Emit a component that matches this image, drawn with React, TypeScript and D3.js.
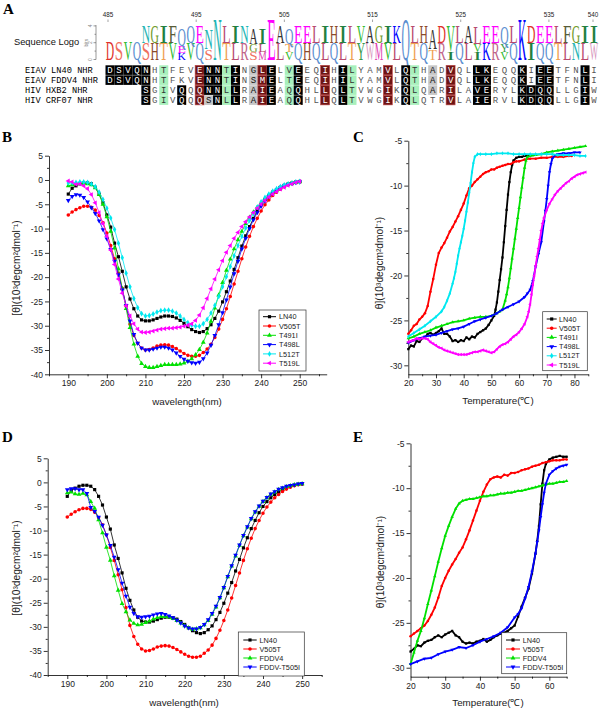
import React, { useEffect, useRef } from 'react';
import * as d3 from 'd3';

const SANS = '"Liberation Sans", Arial, sans-serif';
const SERIF = '"Liberation Serif", "Times New Roman", serif';
const MONO = '"Liberation Mono", "Courier New", monospace';

// ---------- panel A: alignment ----------
const seqNames = ['EIAV LN40 NHR', 'EIAV FDDV4 NHR', 'HIV HXB2 NHR', 'HIV CRF07 NHR'];
const seqRows = [
  'DSVQNHTFEVENNTINGLELVEEQIHILYAMVLQTHADVQLLKEQQKIEETFNLI',
  'DSVQNHTFKVENNTINSMELTEEQIHILYAMVLQTHADVQLLKEQQKIEETFNLI',
  '    SGIVQQQNNLLRAIEAQQHLLQLTVWGIKQLQARILAVERYLKDQQLLGIW',
  '    SGIVQQQSNLLRAIEAQQHLLQLTVWGIKQLQTRVLAIERVLKDQQLLGIW',
];
// k = black, r = dark red, g = green, l = grey, . = none
const seqShade = [
  ['kkkkk', '.g...', 'rkkgk', '.lrk.', 'gk..r', '.kg..', '.r.kg', '.l.r.', '.kk..', '.k.kk', '...k.'].join(''),
  ['kkkkk', '.g...', 'rkkgk', '.lrk.', 'gk..r', '.kg..', '.r.kg', '.l.r.', '.kk..', '.k.kk', '...k.'].join(''),
  ['    k', '.g.k.', 'rkkgk', '.lrk.', 'gk..r', '.kg..', '.r.kg', '.l.r.', '.kk..', '.kkkk', '...k.'].join(''),
  ['    k', '.g.k.', 'rlkgk', '.lrk.', 'gk..r', '.kg..', '.r.kg', '...r.', '.kk..', '.kkkk', '...k.'].join(''),
];
const rulerTicks = [485, 495, 505, 515, 525, 535, 540];

// logo stacks, top letter first, heights in bits
const logoStacks: [string, number][][] = [
  [['D', 2.2]], [['S', 2.2]], [['V', 2.2]], [['Q', 2.2]],
  [['N', 2], ['S', 2]], [['G', 2], ['H', 2]], [['I', 2], ['T', 2]], [['F', 2], ['V', 2]],
  [['Q', 2], ['E', 0.8], ['K', 0.8]], [['Q', 2], ['V', 2]], [['E', 2], ['Q', 2]],
  [['N', 2.4], ['S', 1.2]], [['N', 4.8]], [['L', 2], ['T', 2]], [['I', 2], ['L', 2]],
  [['N', 2], ['R', 2]], [['A', 1.8], ['G', 0.9], ['S', 0.9]], [['I', 1.8], ['L', 0.9], ['M', 0.9]],
  [['E', 4.8]], [['A', 2], ['L', 2]], [['Q', 1.8], ['T', 0.9], ['V', 0.9]], [['E', 2], ['Q', 2]],
  [['E', 2], ['H', 2]], [['L', 2], ['Q', 2]], [['I', 2], ['L', 2]], [['H', 2], ['Q', 2]],
  [['I', 2], ['L', 2]], [['L', 2], ['T', 2]], [['V', 2], ['Y', 2]], [['A', 2], ['W', 2]],
  [['G', 2], ['M', 2]], [['I', 2], ['V', 2]], [['K', 2], ['L', 2]], [['Q', 4.8]],
  [['L', 2], ['T', 2]], [['H', 2], ['Q', 2]], [['A', 2.4], ['T', 1.2]], [['D', 2], ['R', 2]],
  [['V', 3], ['I', 1]], [['L', 2], ['Q', 2]], [['A', 2], ['L', 2]], [['L', 2], ['V', 0.9], ['I', 0.9]],
  [['E', 2], ['K', 2]], [['E', 2], ['R', 2]], [['Q', 2], ['Y', 0.9], ['V', 0.9]], [['L', 2], ['Q', 2]],
  [['K', 4.8]], [['D', 2], ['I', 2]], [['E', 2], ['Q', 2]], [['E', 2], ['Q', 2]],
  [['L', 2], ['T', 2]], [['F', 2], ['L', 2]], [['G', 2], ['N', 2]], [['I', 2], ['L', 2]], [['I', 2], ['W', 2]],
];
const logoColors: Record<string, string> = {
  A: '#333333', D: '#e0302a', E: '#ff00ff', F: '#585c38', G: '#6f9a2a', H: '#8b4a2b', I: '#21803f',
  K: '#0000ff', L: '#b84a6e', M: '#e040b0', N: '#1fb5b5', Q: '#5a8ed0', R: '#c0648a', S: '#f07060',
  T: '#f0a050', V: '#33bb33', W: '#d898c0', Y: '#3a9a4a',
};

// ---------- CD spectra ----------
const wavelengths = [
  190, 191, 192, 193, 194, 195, 196, 197, 198, 199, 200, 201, 202, 203, 204, 205, 206, 207, 208, 209,
  210, 211, 212, 213, 214, 215, 216, 217, 218, 219, 220, 221, 222, 223, 224, 225, 226, 227, 228, 229,
  230, 231, 232, 233, 234, 235, 236, 237, 238, 239, 240, 241, 242, 243, 244, 245, 246, 247, 248, 249, 250,
];
const cdLN40 = [
  -2.9, -1.7, -1.2, -0.8, -0.6, -0.6, -0.8, -1.5, -2.9, -4.7, -7.2, -9.7, -13.0, -15.8, -18.8, -22.0, -24.5, -26.5, -28.0, -28.8,
  -29.0, -29.0, -28.8, -28.5, -28.2, -28.0, -28.0, -28.1, -28.4, -28.9, -29.5, -30.2, -30.8, -31.2, -31.4, -31.2, -30.6, -29.8, -28.5, -27.0,
  -25.1, -23.0, -20.8, -18.4, -16.0, -13.6, -11.5, -9.6, -7.9, -6.3, -5.0, -4.0, -3.2, -2.5, -2.0, -1.5, -1.1, -0.8, -0.6, -0.4, -0.3,
];
const cdV505T = [
  -7.2, -6.6, -6.1, -5.7, -5.4, -5.4, -5.6, -6.2, -7.3, -8.8, -10.9, -13.5, -16.2, -19.2, -22.3, -26.0, -29.7, -32.0, -33.6, -34.6,
  -35.0, -34.9, -34.6, -34.2, -34.0, -33.9, -34.0, -34.3, -34.7, -35.2, -35.7, -36.1, -36.3, -36.3, -36.1, -35.5, -34.8, -33.8, -32.4, -30.7,
  -28.7, -26.5, -24.0, -21.4, -18.8, -16.2, -13.8, -11.6, -9.6, -7.9, -6.4, -5.1, -4.1, -3.2, -2.5, -1.9, -1.4, -1.0, -0.7, -0.5, -0.4,
];
const cdT491I = [
  -1.2, -1.0, -0.8, -0.7, -0.7, -0.8, -1.0, -1.6, -3.0, -5.0, -7.6, -10.6, -14.0, -18.3, -22.4, -26.5, -30.4, -33.8, -36.3, -37.8,
  -38.4, -38.6, -38.6, -38.4, -38.2, -38.0, -38.0, -38.0, -38.0, -37.9, -37.7, -37.3, -36.8, -36.0, -34.9, -33.4, -31.5, -29.1, -26.4, -23.7,
  -21.1, -18.6, -16.3, -14.2, -12.3, -10.6, -9.0, -7.7, -6.6, -5.6, -4.7, -3.9, -3.2, -2.6, -2.1, -1.6, -1.2, -0.9, -0.7, -0.5, -0.4,
];
const cdT498L = [
  -4.2, -3.4, -3.0, -3.1, -3.6, -4.5, -5.7, -6.9, -8.4, -10.2, -12.1, -14.3, -16.7, -19.5, -22.6, -25.8, -29.0, -31.8, -33.6, -34.6,
  -35.0, -35.0, -34.8, -34.6, -34.4, -34.4, -34.6, -35.0, -35.6, -36.3, -36.9, -37.3, -37.6, -37.7, -37.5, -36.8, -35.6, -34.0, -32.0, -29.8,
  -27.3, -24.7, -22.0, -19.3, -16.7, -14.2, -12.0, -10.0, -8.2, -6.7, -5.4, -4.3, -3.4, -2.7, -2.1, -1.6, -1.2, -0.9, -0.7, -0.5, -0.4,
];
const cdL512T = [
  -0.6, -0.6, -0.5, -0.4, -0.4, -0.5, -0.8, -1.4, -2.5, -4.0, -5.8, -7.8, -10.2, -13.0, -16.0, -19.2, -22.0, -24.4, -26.3, -27.5,
  -28.0, -27.9, -27.6, -27.2, -26.9, -26.8, -26.8, -27.0, -27.4, -28.0, -28.7, -29.4, -29.9, -30.1, -30.1, -29.6, -28.7, -27.4, -25.8, -24.0,
  -22.0, -19.9, -17.8, -15.6, -13.5, -11.6, -9.9, -8.3, -6.9, -5.6, -4.5, -3.6, -2.9, -2.3, -1.8, -1.4, -1.0, -0.8, -0.6, -0.4, -0.3,
];
const cdT519L = [
  -0.2, -0.4, -0.9, -0.8, -1.2, -1.8, -3.0, -4.7, -6.7, -9.0, -11.6, -14.4, -17.4, -20.4, -23.3, -25.9, -28.0, -29.6, -30.7, -31.3,
  -31.4, -31.3, -31.1, -30.9, -30.7, -30.6, -30.5, -30.5, -30.4, -30.3, -30.1, -29.9, -29.6, -28.9, -27.8, -26.3, -24.4, -22.4, -20.4, -18.5,
  -16.6, -14.9, -13.5, -12.0, -10.8, -9.6, -8.6, -7.6, -6.7, -5.8, -5.0, -4.2, -3.5, -2.9, -2.4, -1.9, -1.5, -1.1, -0.8, -0.5, -0.3,
];
const cdFDDV4 = [
  -2.2, -2.0, -2.4, -2.5, -2.3, -2.6, -4.0, -5.4, -7.8, -10.5, -13.5, -16.2, -19.4, -22.4, -25.2, -26.9, -28.6, -29.3, -29.6, -29.5,
  -29.1, -28.8, -28.4, -28.1, -27.9, -27.9, -28.0, -28.3, -28.7, -29.2, -29.8, -30.2, -30.5, -30.4, -30.2, -29.6, -28.7, -27.4, -25.9, -24.0,
  -21.9, -19.6, -17.4, -15.3, -13.1, -11.1, -9.3, -7.6, -6.2, -5.0, -4.0, -3.2, -2.5, -2.0, -1.5, -1.2, -0.9, -0.7, -0.5, -0.4, -0.3,
];
const cdFDDVT505I = [
  -1.5, -1.3, -1.3, -1.5, -1.5, -2.3, -5.2, -6.0, -7.2, -8.9, -10.9, -13.1, -15.5, -18.1, -20.9, -23.6, -25.9, -27.2, -27.9, -28.0,
  -27.9, -27.8, -27.5, -27.3, -27.2, -27.4, -27.7, -28.1, -28.6, -29.2, -29.8, -30.2, -30.4, -30.4, -30.1, -29.5, -28.5, -27.2, -25.7, -23.9,
  -21.8, -19.5, -17.3, -15.1, -13.0, -11.0, -9.2, -7.5, -6.1, -4.9, -3.9, -3.1, -2.4, -1.9, -1.4, -1.1, -0.8, -0.6, -0.5, -0.3, -0.2,
];

// ---------- thermal denaturation [temperature, value] ----------
type Pt = [number, number];
const tmC_LN40: Pt[] = [
  [20, -28.2], [21, -27.8], [22, -27.9], [23, -27.3], [24, -27.4], [25, -27.0], [26, -26.9], [27, -26.5], [28, -26.4], [29, -26.6],
  [30, -26.4], [31, -26.2], [32, -25.9], [33, -26.5], [34, -26.5], [35, -26.8], [36, -27.3], [37, -27.2], [38, -27.4], [39, -27.2],
  [40, -27.3], [41, -26.9], [42, -27.1], [43, -26.8], [44, -26.9], [45, -26.5], [46, -26.3], [47, -26.1], [48, -25.9], [49, -25.5],
  [50, -25.0], [51, -24.5], [51.5, -23.8], [52, -23.0], [52.5, -21.8], [53, -20.5], [53.5, -19.3], [54, -18.0], [54.5, -16.3],
  [55, -14.5], [55.5, -12.7], [56, -11.0], [56.5, -9.6], [57, -8.5], [57.5, -7.7], [58, -7.2], [59, -6.9], [60, -6.8], [61, -6.8],
  [62, -6.7], [63, -6.7], [64, -6.6], [65, -6.6],
];
const tmC_V505T: Pt[] = [
  [20, -26.5], [21, -26.1], [22, -25.6], [23, -25.4], [24, -24.9], [25, -24.6], [26, -24.2], [27, -23.4], [28, -21.8], [29, -20.4],
  [30, -18.8], [31, -17.5], [32, -16.9], [33, -16.4], [34, -15.8], [35, -15.1], [36, -14.6], [37, -14.0], [38, -13.4], [39, -12.7],
  [40, -12.0], [41, -11.1], [42, -10.3], [43, -10.0], [44, -9.6], [45, -9.3], [46, -9.0], [47, -8.7], [48, -8.5], [49, -8.4],
  [50, -8.2], [51, -8.2], [52, -8.0], [53, -7.9], [54, -7.8], [55, -7.7], [56, -7.6], [57, -7.6], [58, -7.4], [59, -7.3], [60, -7.3],
  [62, -7.1], [64, -7.0], [66, -7.0], [68, -6.9], [70, -6.9], [72, -6.8], [74, -6.8], [76, -6.8], [78, -6.7], [79, -6.7],
];
const tmC_T491I: Pt[] = [
  [20, -27.0], [22, -26.8], [24, -26.5], [26, -26.3], [28, -26.1], [30, -25.8], [32, -25.6], [34, -25.4], [36, -25.2], [38, -25.1],
  [40, -25.0], [42, -24.8], [44, -24.7], [46, -24.6], [48, -24.6], [50, -24.5], [52, -24.2], [53, -24.0], [54, -23.8], [55, -22.8],
  [55.5, -22.1], [56, -21.3], [56.5, -20.3], [57, -19.2], [57.5, -18.1], [58, -17.0], [58.5, -15.9], [59, -14.8], [59.5, -13.6],
  [60, -12.5], [60.5, -11.3], [61, -10.2], [61.5, -9.1], [62, -8.0], [62.5, -7.2], [63, -6.8], [64, -6.7], [66, -6.6], [68, -6.5],
  [70, -6.3], [72, -6.2], [74, -6.1], [76, -6.0], [78, -5.9], [80, -5.8], [82, -5.7], [84, -5.6],
];
const tmC_T498L: Pt[] = [
  [20, -27.5], [22, -27.2], [24, -27.0], [26, -26.8], [28, -26.7], [30, -26.6], [32, -26.4], [34, -26.2], [36, -26.0], [38, -25.9],
  [40, -25.7], [42, -25.4], [44, -25.1], [46, -24.9], [48, -24.7], [50, -24.5], [52, -24.2], [54, -23.8], [56, -23.5], [58, -23.2],
  [60, -22.9], [62, -22.4], [63, -22.0], [64, -21.6], [65, -20.6], [66, -19.0], [67, -17.6], [68, -16.3], [69, -14.0], [69.5, -12.8],
  [70, -11.5], [70.5, -10.0], [71, -8.5], [71.5, -7.6], [72, -7.0], [73, -6.6], [74, -6.5], [76, -6.4], [78, -6.4], [80, -6.3], [82, -6.3],
];
const tmC_L512T: Pt[] = [
  [20, -26.8], [22, -26.4], [24, -26.0], [26, -25.6], [28, -25.1], [30, -24.6], [32, -24.0], [33, -23.5], [34, -22.8], [35, -22.0],
  [36, -20.9], [36.5, -20.3], [37, -19.6], [37.5, -18.7], [38, -17.8], [38.5, -17.0], [39, -16.3], [39.5, -15.6], [40, -14.8],
  [40.5, -13.9], [41, -12.9], [41.5, -11.9], [42, -10.8], [42.5, -9.7], [43, -8.5], [43.5, -7.5], [44, -6.8], [45, -6.5], [46, -6.5],
  [48, -6.5], [50, -6.5], [52, -6.4], [54, -6.4], [56, -6.4], [58, -6.5], [60, -6.5], [62, -6.5], [64, -6.5], [66, -6.5], [68, -6.5],
  [70, -6.5], [72, -6.5], [74, -6.6], [76, -6.6], [78, -6.6], [80, -6.6], [82, -6.7], [84, -6.7],
];
const tmC_T519L: Pt[] = [
  [20, -27.4], [21, -27.3], [22, -27.2], [23, -27.0], [24, -27.1], [25, -27.0], [26, -27.0], [27, -27.1], [28, -27.4], [29, -27.6],
  [30, -27.8], [31, -28.0], [32, -28.1], [33, -28.3], [34, -28.4], [35, -28.5], [36, -28.6], [37, -28.7], [38, -28.8], [39, -28.8],
  [40, -28.8], [41, -28.8], [42, -28.7], [43, -28.6], [44, -28.5], [45, -28.5], [46, -28.4], [47, -28.3], [48, -28.4], [49, -28.5],
  [50, -28.6], [51, -28.5], [52, -28.2], [53, -27.9], [54, -27.7], [55, -27.6], [56, -27.4], [57, -27.1], [58, -26.8], [59, -26.6],
  [60, -26.3], [61, -25.9], [62, -25.4], [63, -24.6], [63.5, -24.0], [64, -23.2], [64.5, -22.1], [65, -21.0], [65.5, -20.0],
  [66, -18.9], [66.5, -17.9], [67, -17.0], [67.5, -16.0], [68, -15.0], [68.5, -14.2], [69, -13.6], [70, -12.7], [71, -12.0],
  [72, -11.5], [73, -11.0], [74, -10.6], [75, -10.3], [76, -10.0], [77, -9.7], [78, -9.5], [79, -9.2], [80, -9.0], [81, -8.8],
  [82, -8.7], [83, -8.6], [84, -8.5],
];

const tmE_LN40: Pt[] = [
  [20, -28.2], [21, -27.9], [22, -27.5], [23, -27.6], [24, -27.2], [25, -27.0], [26, -26.9], [27, -26.6], [28, -26.4], [29, -26.6],
  [30, -26.3], [31, -26.1], [32, -25.9], [33, -26.4], [34, -26.6], [35, -27.1], [36, -27.3], [37, -27.2], [38, -27.3], [39, -27.1],
  [40, -27.0], [41, -26.8], [42, -27.1], [43, -26.9], [44, -26.6], [45, -26.4], [46, -26.2], [47, -26.1], [48, -25.9], [49, -25.6],
  [50, -25.3], [51, -24.3], [52, -23.2], [53, -22.2], [54, -21.2], [55, -19.5], [56, -17.3], [56.5, -15.9], [57, -14.2], [57.5, -11.8],
  [58, -9.5], [58.5, -8.0], [59, -7.3], [60, -6.8], [61, -6.6], [62, -6.5], [63, -6.4], [64, -6.5], [65, -6.5],
];
const tmE_V505T: Pt[] = [
  [20, -26.5], [21, -26.2], [22, -25.9], [23, -25.6], [24, -25.3], [25, -24.8], [26, -24.1], [27, -23.3], [28, -22.2], [29, -20.9],
  [30, -20.0], [31, -19.2], [32, -18.5], [33, -17.9], [34, -17.2], [35, -16.6], [36, -15.7], [37, -14.7], [38, -13.6], [39, -12.5],
  [40, -11.4], [41, -10.4], [42, -9.6], [43, -9.0], [44, -8.8], [45, -8.7], [46, -8.8], [47, -8.5], [48, -8.6], [49, -8.3],
  [50, -8.3], [51, -8.2], [52, -8.0], [53, -7.9], [54, -7.8], [55, -7.6], [56, -7.5], [57, -7.4], [58, -7.2], [59, -7.1],
  [60, -7.0], [61, -6.9], [62, -6.9], [63, -6.9], [64, -6.8], [65, -6.8],
];
const tmE_FDDV4: Pt[] = [
  [20, -29.6], [21, -28.3], [22, -27.0], [23, -25.9], [24, -24.5], [25, -22.9], [26, -21.4], [27, -19.8], [28, -18.2], [29, -16.7],
  [30, -15.3], [31, -14.2], [32, -13.2], [33, -12.3], [34, -11.7], [35, -11.4], [36, -11.3], [37, -11.2], [38, -11.2], [39, -11.1],
  [40, -11.0], [41, -10.9], [42, -10.9], [43, -10.8], [44, -10.8], [45, -10.7], [46, -10.6], [47, -10.6], [48, -10.5], [49, -10.5],
  [50, -10.4], [51, -10.3], [52, -10.3], [53, -10.2], [54, -10.1], [55, -10.0], [56, -9.9], [57, -9.8], [58, -9.7], [59, -9.6],
  [60, -9.5], [61, -9.5], [62, -9.4], [63, -9.3], [64, -9.3], [65, -9.2],
];
const tmE_FDDVT505I: Pt[] = [
  [20, -29.6], [22, -29.3], [24, -29.0], [26, -28.9], [28, -28.5], [30, -28.2], [32, -28.0], [34, -27.7], [36, -27.8], [38, -27.5],
  [40, -27.1], [42, -26.8], [44, -26.5], [46, -26.1], [48, -25.5], [50, -24.4], [51, -24.0], [52, -23.4], [53, -22.3], [54, -21.0],
  [55, -19.3], [56, -17.3], [56.5, -16.0], [57, -14.7], [57.5, -13.2], [58, -11.8], [58.5, -10.5], [59, -9.5], [60, -8.5],
  [61, -8.1], [62, -7.8], [63, -7.6], [64, -7.5], [65, -7.4],
];

type Series = { name: string; color: string; symbol: string; pts: Pt[] };
const zipCD = (vals: number[]): Pt[] => wavelengths.map((w, i) => [w, vals[i]] as Pt);

const seriesB: Series[] = [
  { name: 'LN40', color: '#000000', symbol: 'square', pts: zipCD(cdLN40) },
  { name: 'V505T', color: '#ff0000', symbol: 'circle', pts: zipCD(cdV505T) },
  { name: 'T491I', color: '#00e000', symbol: 'up', pts: zipCD(cdT491I) },
  { name: 'T498L', color: '#0000ff', symbol: 'down', pts: zipCD(cdT498L) },
  { name: 'L512T', color: '#00e8f0', symbol: 'diamond', pts: zipCD(cdL512T) },
  { name: 'T519L', color: '#ff00ff', symbol: 'left', pts: zipCD(cdT519L) },
];
const seriesC: Series[] = [
  { name: 'LN40', color: '#000000', symbol: 'square', pts: tmC_LN40 },
  { name: 'V505T', color: '#ff0000', symbol: 'circle', pts: tmC_V505T },
  { name: 'T491I', color: '#00e000', symbol: 'up', pts: tmC_T491I },
  { name: 'T498L', color: '#0000ff', symbol: 'down', pts: tmC_T498L },
  { name: 'L512T', color: '#00e8f0', symbol: 'diamond', pts: tmC_L512T },
  { name: 'T519L', color: '#ff00ff', symbol: 'left', pts: tmC_T519L },
];
const seriesD: Series[] = [
  { name: 'LN40', color: '#000000', symbol: 'square', pts: zipCD(cdLN40) },
  { name: 'V505T', color: '#ff0000', symbol: 'circle', pts: zipCD(cdV505T) },
  { name: 'FDDV4', color: '#00e000', symbol: 'up', pts: zipCD(cdFDDV4) },
  { name: 'FDDV-T505I', color: '#0000ff', symbol: 'down', pts: zipCD(cdFDDVT505I) },
];
const seriesE: Series[] = [
  { name: 'LN40', color: '#000000', symbol: 'square', pts: tmE_LN40 },
  { name: 'V505T', color: '#ff0000', symbol: 'circle', pts: tmE_V505T },
  { name: 'FDDV4', color: '#00e000', symbol: 'up', pts: tmE_FDDV4 },
  { name: 'FDDV-T505I', color: '#0000ff', symbol: 'down', pts: tmE_FDDVT505I },
];

const Y_LABEL = '[θ](10³degcm²dmol⁻¹)';
const Y_LABEL_T = 'θ](10³degcm²dmol⁻¹)';

function symbolPath(kind: string, size: number) {
  const t = kind === 'square' ? d3.symbolSquare : kind === 'circle' ? d3.symbolCircle
    : kind === 'diamond' ? d3.symbolDiamond : d3.symbolTriangle;
  return d3.symbol().type(t).size(size)() as string;
}
const symbolRot = (kind: string) => (kind === 'down' ? 180 : kind === 'left' ? -90 : 0);

type PanelCfg = {
  xDomain: [number, number]; xRange: [number, number];
  yDomain: [number, number]; yRange: [number, number];
  xTicks: number[]; xMinor: number; yTicks: number[]; yMinor: number;
  xLabel: string; xLabelPos: [number, number];
  yLabel: string; yLabelPos: [number, number];
  series: Series[]; markerSize: number; lineWidth: number;
  legend: { box: [number, number, number, number]; y0: number; dy: number; lx: [number, number]; tx: number };
};

function drawPanel(root: d3.Selection<SVGGElement, unknown, null, undefined>, cfg: PanelCfg) {
  const x = d3.scaleLinear().domain(cfg.xDomain).range(cfg.xRange);
  const y = d3.scaleLinear().domain(cfg.yDomain).range(cfg.yRange);
  const g = root.append('g');

  const minors = (dom: [number, number], step: number, majors: number[]) =>
    d3.range(Math.ceil(dom[0] / step) * step, dom[1] + 1e-9, step).filter(v => !majors.some(m => Math.abs(m - v) < 1e-9));

  const gx = g.append('g').attr('transform', `translate(0,${cfg.yRange[0]})`)
    .call(d3.axisBottom(x).tickValues(cfg.xTicks).tickSize(4).tickSizeOuter(0).tickPadding(2).tickFormat(d => String(d)));
  g.append('g').attr('transform', `translate(0,${cfg.yRange[0]})`)
    .call(d3.axisBottom(x).tickValues(minors(cfg.xDomain, cfg.xMinor, cfg.xTicks)).tickSize(2).tickFormat(() => ''))
    .call(s => s.select('.domain').remove());
  const gy = g.append('g').attr('transform', `translate(${cfg.xRange[0]},0)`)
    .call(d3.axisLeft(y).tickValues(cfg.yTicks).tickSize(4).tickSizeOuter(0).tickPadding(2).tickFormat(d => String(d)));
  g.append('g').attr('transform', `translate(${cfg.xRange[0]},0)`)
    .call(d3.axisLeft(y).tickValues(minors(cfg.yDomain, cfg.yMinor, cfg.yTicks)).tickSize(2).tickFormat(() => ''))
    .call(s => s.select('.domain').remove());
  g.selectAll('.domain, .tick line').attr('stroke', '#000').attr('stroke-width', 0.8);
  [gx, gy].forEach(a => a.attr('font-family', SANS).attr('font-size', 8.5).selectAll('text').attr('fill', '#222'));

  g.append('text').attr('x', cfg.xLabelPos[0]).attr('y', cfg.xLabelPos[1]).attr('text-anchor', 'middle')
    .attr('font-family', SANS).attr('font-size', 9.8).attr('fill', '#222').text(cfg.xLabel);
  g.append('text').attr('transform', `translate(${cfg.yLabelPos[0]},${cfg.yLabelPos[1]}) rotate(-90)`)
    .attr('text-anchor', 'middle').attr('font-family', SANS).attr('font-size', 10.2).attr('fill', '#222').text(cfg.yLabel);

  const line = d3.line<Pt>().x(d => x(d[0])).y(d => y(d[1]));
  cfg.series.forEach(s => {
    g.append('path').attr('d', line(s.pts) as string).attr('fill', 'none')
      .attr('stroke', s.color).attr('stroke-width', cfg.lineWidth);
    const p = symbolPath(s.symbol, cfg.markerSize);
    g.append('g').selectAll('path').data(s.pts).enter().append('path')
      .attr('d', p).attr('fill', s.color)
      .attr('transform', d => `translate(${x(d[0])},${y(d[1])}) rotate(${symbolRot(s.symbol)})`);
  });

  const L = cfg.legend;
  g.append('rect').attr('x', L.box[0]).attr('y', L.box[1]).attr('width', L.box[2]).attr('height', L.box[3])
    .attr('fill', '#fff').attr('stroke', '#333').attr('stroke-width', 0.7);
  cfg.series.forEach((s, i) => {
    const ly = L.y0 + i * L.dy;
    g.append('line').attr('x1', L.lx[0]).attr('x2', L.lx[1]).attr('y1', ly).attr('y2', ly)
      .attr('stroke', s.color).attr('stroke-width', 1);
    g.append('path').attr('d', symbolPath(s.symbol, 10)).attr('fill', s.color)
      .attr('transform', `translate(${(L.lx[0] + L.lx[1]) / 2},${ly}) rotate(${symbolRot(s.symbol)})`);
    g.append('text').attr('x', L.tx).attr('y', ly + 2.6).attr('font-family', SANS).attr('font-size', 7.3)
      .attr('fill', '#222').text(s.name);
  });
}

export default function App() {
  const ref = useRef<SVGSVGElement>(null);

  useEffect(() => {
    const svg = d3.select(ref.current);
    svg.selectAll('*').remove();
    const root = svg.append('g');

    // panel letters
    [['A', 3, 14], ['B', 2, 142], ['C', 353, 142], ['D', 2, 442], ['E', 353, 442]].forEach(([t, px, py]) => {
      root.append('text').attr('x', px as number).attr('y', py as number).attr('font-family', SERIF)
        .attr('font-weight', 'bold').attr('font-size', 15).text(t as string);
    });

    // ----- A: ruler, logo, alignment -----
    const ruler = d3.scaleLinear().domain([485, 540]).range([108, 593]);
    const colX = d3.scaleLinear().domain([0, 54]).range([110, 594]);
    const gA = root.append('g');
    rulerTicks.forEach(t => {
      gA.append('line').attr('x1', ruler(t)).attr('x2', ruler(t)).attr('y1', 19.5).attr('y2', 22)
        .attr('stroke', '#666').attr('stroke-width', 0.6);
      gA.append('text').attr('x', ruler(t)).attr('y', 17).attr('text-anchor', 'middle')
        .attr('font-family', SANS).attr('font-size', 6.3).attr('fill', '#222').text(String(t));
    });

    const bits = d3.scaleLinear().domain([0, 4]).range([59.5, 25.9]);
    gA.append('line').attr('x1', 96).attr('x2', 96).attr('y1', bits(4.1)).attr('y2', bits(0))
      .attr('stroke', '#555').attr('stroke-width', 0.6);
    [0, 1, 2, 3, 4].forEach(b => {
      gA.append('line').attr('x1', b % 2 ? 94.5 : 93.5).attr('x2', 96).attr('y1', bits(b)).attr('y2', bits(b))
        .attr('stroke', '#555').attr('stroke-width', 0.6);
    });
    [0, 2, 4].forEach(b => {
      gA.append('text').attr('transform', `translate(91.5,${bits(b)}) rotate(-90)`).attr('text-anchor', 'middle')
        .attr('font-family', SANS).attr('font-size', 5).attr('fill', '#888').text(String(b));
    });
    gA.append('text').attr('transform', `translate(88,${bits(2)}) rotate(-90)`).attr('text-anchor', 'middle')
      .attr('font-family', SANS).attr('font-size', 5).attr('fill', '#888').text('bits');
    gA.append('text').attr('x', 14).attr('y', 45).attr('font-family', SANS).attr('font-size', 9.3)
      .attr('fill', '#111').text('Sequence Logo');

    // stretched letters: serif cap height is about 0.662 em
    const bitPx = bits(0) - bits(1);
    const CAP = 6.62;
    logoStacks.forEach((stack, k) => {
      let yb = bits(0);
      [...stack].reverse().forEach(([ch, b]) => {
        const h = b * bitPx;
        gA.append('text')
          .attr('transform', `translate(${colX(k) - 4.2},${yb}) scale(1,${h / CAP})`)
          .attr('font-family', SERIF).attr('font-size', 10)
          .attr('textLength', 8.4).attr('lengthAdjust', 'spacingAndGlyphs')
          .attr('fill', logoColors[ch] || '#333').text(ch);
        yb -= h;
      });
    });

    const rowY = d3.scaleLinear().domain([0, 3]).range([65.3, 95.3]);
    const shadeBg: Record<string, string> = { k: '#000000', r: '#6e1414', g: '#a8f0bc', l: '#c6c6c6' };
    const shadeFg: Record<string, string> = { k: '#ffffff', r: '#ffffff', g: '#333333', l: '#111111', '.': '#555555' };
    seqRows.forEach((row, r) => {
      const top = rowY(r);
      gA.append('text').attr('x', 25).attr('y', top + 7.6).attr('font-family', MONO).attr('font-size', 8.7)
        .attr('fill', '#000').text(seqNames[r]);
      row.split('').forEach((ch, k) => {
        if (ch === ' ') return;
        const sh = seqShade[r][k];
        if (shadeBg[sh]) {
          gA.append('rect').attr('x', colX(k) - 4.5).attr('y', top).attr('width', 9).attr('height', 9.6)
            .attr('fill', shadeBg[sh]).attr('stroke', sh === 'r' ? '#c04a4a' : 'none').attr('stroke-width', 0.6);
        }
        gA.append('text').attr('x', colX(k)).attr('y', top + 7.6).attr('text-anchor', 'middle')
          .attr('font-family', MONO).attr('font-size', 9).attr('fill', shadeFg[sh] || '#555').text(ch);
      });
    });

    // ----- B -----
    drawPanel(root, {
      xDomain: [185, 257], xRange: [49, 326.7], yDomain: [-40, 5], yRange: [374.3, 155.7],
      xTicks: [190, 200, 210, 220, 230, 240, 250], xMinor: 5,
      yTicks: [-40, -35, -30, -25, -20, -15, -10, -5, 0, 5], yMinor: 2.5,
      xLabel: 'wavelength(nm)', xLabelPos: [187, 405], yLabel: Y_LABEL, yLabelPos: [20, 268],
      series: seriesB, markerSize: 10, lineWidth: 0.8,
      legend: { box: [259, 310, 47, 61], y0: 316.7, dy: 9.3, lx: [263, 276], tx: 279 },
    });
    // ----- C -----
    drawPanel(root, {
      xDomain: [20, 85], xRange: [408.3, 588.3], yDomain: [-31, -5], yRange: [374.3, 140.7],
      xTicks: [20, 30, 40, 50, 60, 70, 80], xMinor: 5,
      yTicks: [-30, -25, -20, -15, -10, -5], yMinor: 2.5,
      xLabel: 'Temperature(℃)', xLabelPos: [498, 404], yLabel: Y_LABEL_T, yLabelPos: [383, 263],
      series: seriesC, markerSize: 5, lineWidth: 1.8,
      legend: { box: [542.7, 311.7, 44.6, 59], y0: 319, dy: 9.2, lx: [546.7, 556.7], tx: 559 },
    });
    // ----- D -----
    drawPanel(root, {
      xDomain: [185, 255], xRange: [47.7, 321.7], yDomain: [-40, 5], yRange: [675, 458.3],
      xTicks: [190, 200, 210, 220, 230, 240, 250], xMinor: 5,
      yTicks: [-40, -35, -30, -25, -20, -15, -10, -5, 0, 5], yMinor: 2.5,
      xLabel: 'wavelength(nm)', xLabelPos: [184, 706], yLabel: Y_LABEL, yLabelPos: [20, 568],
      series: seriesD, markerSize: 10, lineWidth: 0.8,
      legend: { box: [238.3, 632, 66, 44], y0: 640, dy: 9, lx: [243.3, 256.7], tx: 259.5 },
    });
    // ----- E -----
    drawPanel(root, {
      xDomain: [20, 65], xRange: [410.5, 566.7], yDomain: [-31, -5], yRange: [676.7, 443.3],
      xTicks: [20, 30, 40, 50, 60], xMinor: 5,
      yTicks: [-30, -25, -20, -15, -10, -5], yMinor: 2.5,
      xLabel: 'Temperature(℃)', xLabelPos: [488, 706], yLabel: Y_LABEL_T, yLabelPos: [384, 562],
      series: seriesE, markerSize: 5, lineWidth: 1.8,
      legend: { box: [501.7, 632.7, 65, 41], y0: 640, dy: 9, lx: [506, 520], tx: 522.7 },
    });
  }, []);

  return (
    <svg ref={ref} width={600} height={709}
      style={{ position: 'absolute', left: 0, top: 0, display: 'block', background: '#fff' }} />
  );
}
